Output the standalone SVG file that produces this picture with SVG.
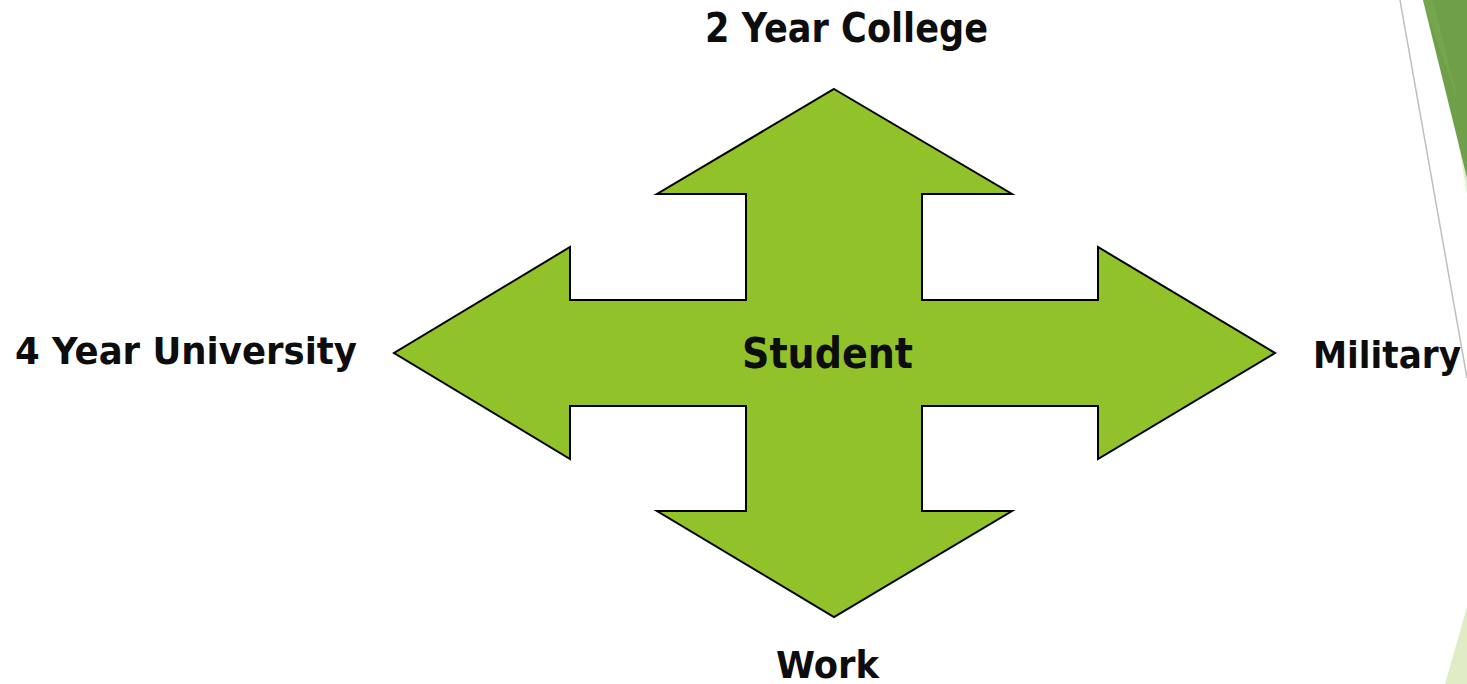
<svg xmlns="http://www.w3.org/2000/svg" width="1467" height="684" viewBox="0 0 1467 684">
  <style>
    .lbl { font-family: "DejaVu Sans", "Liberation Sans", sans-serif; font-weight: bold; fill: #0d0d0d; }
    .arrow { fill: #92C22A; stroke: #000; stroke-width: 2; stroke-linejoin: miter; }
  </style>
  <rect width="1467" height="684" fill="#ffffff"/>
  <g id="decor">
    <polygon points="1458,140 1467,140 1467,195" fill="#e2efcd"/>
    <polygon points="1423,0 1467,0 1467,178" fill="#6f9f48"/>
    <polygon points="1423,0 1433,0 1459,105" fill="#7aab52" opacity="0.6"/>
    <line x1="1400" y1="0" x2="1467" y2="378" stroke="#bfbfbf" stroke-width="1.5"/>
    <polygon points="1467,607 1467,684 1445,684" fill="#dfecc6"/>
  </g>
  <g id="student">
    <path class="arrow" d="M834,89 L1012,194 L922,194 L922,300 L1098,300 L1098,247 L1275,353 L1098,459 L1098,406 L922,406 L922,511 L1012,511 L834,617 L657,511 L746,511 L746,406 L570,406 L570,459 L394,353 L570,247 L570,300 L746,300 L746,194 L657,194 Z"/>
    <text class="lbl" x="742" y="368" font-size="42" textLength="171" lengthAdjust="spacingAndGlyphs">Student</text>
  </g>
  <g id="college">
    <text class="lbl" x="705" y="42" font-size="40" textLength="283" lengthAdjust="spacingAndGlyphs">2 Year College</text>
  </g>
  <g id="university">
    <text class="lbl" x="15" y="364" font-size="38" textLength="342" lengthAdjust="spacingAndGlyphs">4 Year University</text>
  </g>
  <g id="military">
    <text class="lbl" x="1313" y="368" font-size="38" textLength="148" lengthAdjust="spacingAndGlyphs">Military</text>
  </g>
  <g id="work">
    <text class="lbl" x="776" y="678" font-size="37" textLength="103" lengthAdjust="spacingAndGlyphs">Work</text>
  </g>
  <g id="connectors"></g>
</svg>
